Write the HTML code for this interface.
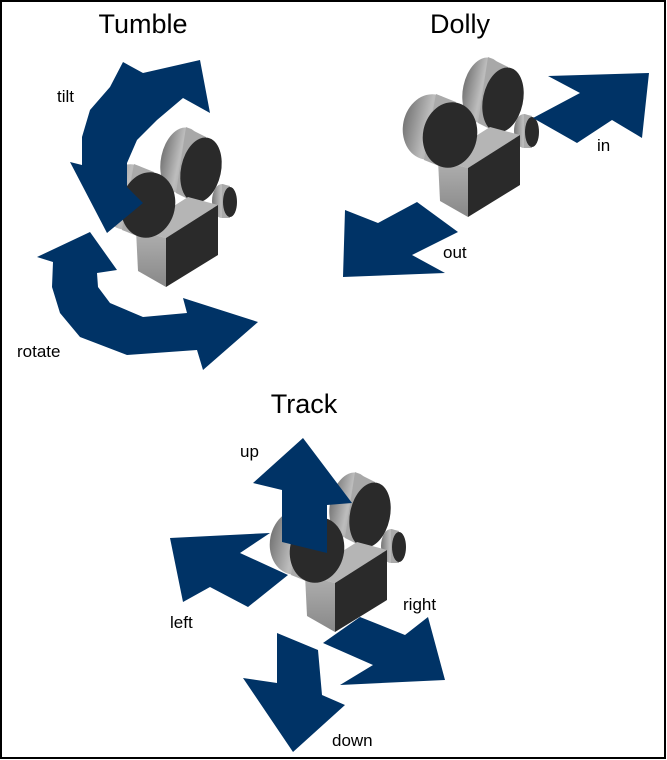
<!DOCTYPE html>
<html><head><style>
html,body{margin:0;padding:0;background:#fff;}
svg{display:block;}
text{font-family:"Liberation Sans",Arial,sans-serif;fill:#000;}
</style></head><body>
<svg width="667" height="760" viewBox="0 0 667 760" xmlns="http://www.w3.org/2000/svg">
<defs>
<linearGradient id="g1" x1="0" y1="0" x2="1" y2="0">
<stop offset="0" stop-color="#777"/><stop offset="0.45" stop-color="#bdbdbd"/><stop offset="1" stop-color="#8a8a8a"/></linearGradient>
<linearGradient id="g2" x1="0" y1="0" x2="0" y2="1">
<stop offset="0" stop-color="#b0b0b0"/><stop offset="1" stop-color="#888"/></linearGradient>
<g id="cam">
<ellipse cx="33" cy="-45" rx="20" ry="33" fill="url(#g1)" transform="rotate(12 33 -45)"/>
<polygon points="38,-78 58,-68 48,-2 28,-12" fill="#a8a8a8"/>
<ellipse cx="53" cy="-35" rx="20" ry="33" fill="#2a2a2a" transform="rotate(12 53 -35)"/>
<ellipse cx="74" cy="-4" rx="10" ry="17" fill="url(#g1)"/>
<polygon points="74,-21 82,-19 82,13 74,13" fill="#aaa"/>
<ellipse cx="82" cy="-3" rx="7" ry="15" fill="#2a2a2a"/>
<polygon points="-12,25 18,33 70,0 40,-8" fill="#b5b5b5"/>
<polygon points="-12,25 18,33 18,82 -10,66" fill="url(#g2)"/>
<polygon points="18,33 70,0 70,50 18,82" fill="#2a2a2a"/>
<ellipse cx="-20" cy="-8" rx="27" ry="33" fill="url(#g1)" transform="rotate(12 -20 -8)"/>
<polygon points="-14,-41 6,-33 -6,33 -26,25" fill="#aaa"/>
<ellipse cx="0" cy="0" rx="27" ry="33" fill="#2a2a2a" transform="rotate(12)"/>
</g>
</defs>
<rect x="1" y="1" width="664" height="757" fill="#fff" stroke="#000" stroke-width="2"/>

<text x="143" y="33" font-size="27" text-anchor="middle">Tumble</text>
<text x="460" y="33" font-size="27" text-anchor="middle">Dolly</text>
<text x="304" y="413" font-size="27" text-anchor="middle">Track</text>

<use href="#cam" transform="translate(148,205)"/>
<use href="#cam" transform="translate(450,135)"/>
<use href="#cam" transform="translate(317,550)"/>

<g fill="#003366">
<polygon points="123,62 143,73 200,60 210,113 183,98 157,120 137,140 127,163 127,187 143,203 107,233 70,162 82,165 82,137 90,110 110,87"/>
<polygon points="37,257 90,232 117,270 97,273 98,287 110,303 143,317 187,313 183,298 258,322 203,370 197,350 127,355 80,337 60,313 52,287 53,262"/>
<polygon points="548,76 649,73 642,138 612,120 577,143 533,118 580,93"/>
<polygon points="343,277 345,210 378,223 417,202 458,232 412,255 445,273"/>
<polygon points="303,438 352,503 327,505 327,553 282,542 282,490 253,483"/>
<polygon points="170,538 270,533 240,553 288,575 248,607 210,587 183,602"/>
<polygon points="323,643 360,617 405,635 428,617 445,680 340,685 373,665"/>
<polygon points="277,633 318,650 322,695 345,705 293,752 243,678 277,683"/>
</g>

<g font-size="17">
<text x="57" y="102">tilt</text>
<text x="17" y="357">rotate</text>
<text x="597" y="151">in</text>
<text x="443" y="258">out</text>
<text x="240" y="457">up</text>
<text x="170" y="628">left</text>
<text x="403" y="610">right</text>
<text x="332" y="746">down</text>
</g>
</svg>
</body></html>
